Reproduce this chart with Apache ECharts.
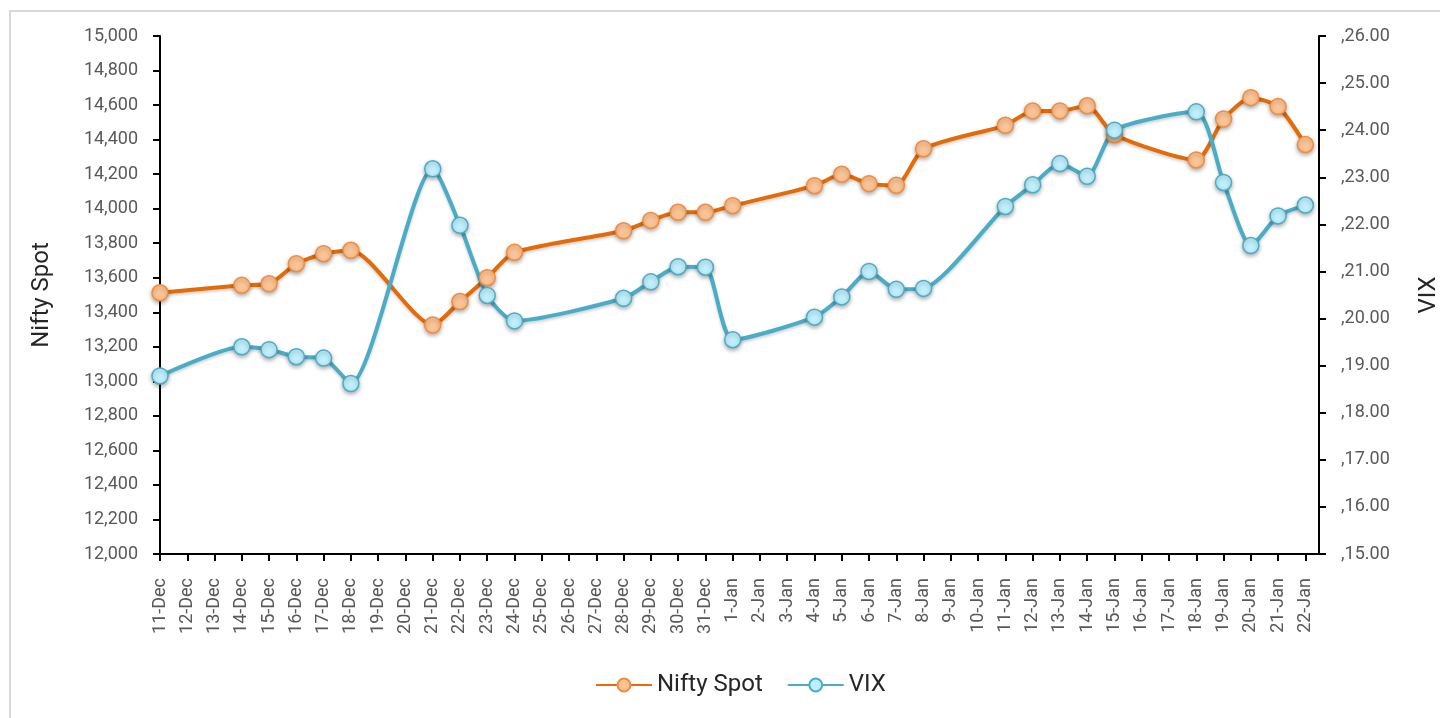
<!DOCTYPE html>
<html>
<head>
<meta charset="utf-8">
<script src="https://cdn.jsdelivr.net/npm/echarts@6/dist/echarts.min.js"></script>
<style>
  html, body { margin: 0; padding: 0; background: #fff; }
  #chart { width: 1440px; height: 718px; }
</style>
</head>
<body>
<div id="chart"></div>
<script>
// Categories: every calendar day shown on the axis
const days = ['11-Dec','12-Dec','13-Dec','14-Dec','15-Dec','16-Dec','17-Dec','18-Dec','19-Dec','20-Dec',
  '21-Dec','22-Dec','23-Dec','24-Dec','25-Dec','26-Dec','27-Dec','28-Dec','29-Dec','30-Dec','31-Dec',
  '1-Jan','2-Jan','3-Jan','4-Jan','5-Jan','6-Jan','7-Jan','8-Jan','9-Jan','10-Jan','11-Jan','12-Jan',
  '13-Jan','14-Jan','15-Jan','16-Jan','17-Jan','18-Jan','19-Jan','20-Jan','21-Jan','22-Jan'];

// Nifty Spot (null = no trading day)
const nifty = [13513,null,null,13556,13565,13681,13739,13759,null,null,
  13326,13462,13600,13747,null,null,null,13872,13932,13979,13979,
  14017,null,null,14133,14199,14145,14135,14347,null,null,14483,14566,
  14566,14596,14428,null,null,14282,14519,14643,14591,14371];

// India VIX
const vix = [18.78,null,null,19.40,19.34,19.19,19.16,18.62,null,null,
  23.18,21.98,20.49,19.95,null,null,null,20.43,20.78,21.10,21.09,
  19.55,null,null,20.03,20.46,21.00,20.62,20.64,null,null,22.38,22.84,
  23.29,23.02,24.00,null,null,24.39,22.89,21.55,22.18,22.41];

const leftTicks = { min: 12000, max: 15000, step: 200 };
const rightTicks = { min: 15, max: 26, step: 1 };

const toPairs = arr => arr.map((v, i) => [i, v]).filter(p => p[1] !== null);
const dayIdx = days.map((d, i) => i);

const FONT = 'Roboto';
const chart = echarts.init(document.getElementById('chart'), null, { renderer: 'canvas' });

const option = {
  animation: false,
  backgroundColor: '#ffffff',
  textStyle: { fontFamily: FONT },
  graphic: [
    { type: 'line', shape: { x1: 10, y1: 11, x2: 10, y2: 718 }, style: { stroke: '#d9d9d9', lineWidth: 2 } },
    { type: 'line', shape: { x1: 9, y1: 11, x2: 1440, y2: 11 }, style: { stroke: '#d9d9d9', lineWidth: 2 } }
  ],
  grid: { left: 160, right: 121, top: 36, bottom: 164, containLabel: false, outerBoundsMode: 'none' },
  legend: {
    bottom: 16,
    left: 590,
    itemWidth: 56,
    itemHeight: 16,
    itemGap: 24,
    textStyle: { fontFamily: FONT, fontSize: 24, color: '#262626' },
    data: ['Nifty Spot', 'VIX']
  },
  xAxis: {
    type: 'value',
    min: 0,
    max: days.length - 0.5,
    splitLine: { show: false },
    axisLine: { show: true, onZero: false, lineStyle: { color: '#000', width: 2 } },
    axisTick: { show: true, length: 7, lineStyle: { color: '#000', width: 2 }, customValues: dayIdx },
    axisLabel: {
      customValues: dayIdx,
      rotate: 90,
      margin: 24,
      fontFamily: FONT,
      fontSize: 18,
      color: '#595959',
      formatter: v => days[Math.round(v)] || ''
    }
  },
  yAxis: [
    {
      type: 'value',
      position: 'left',
      min: leftTicks.min, max: leftTicks.max, interval: leftTicks.step,
      name: 'Nifty Spot',
      nameLocation: 'middle',
      nameRotate: 90,
      nameGap: 106,
      nameTextStyle: { fontFamily: FONT, fontSize: 24, color: '#262626' },
      splitLine: { show: false },
      axisLine: { show: true, lineStyle: { color: '#000', width: 2 } },
      axisTick: { show: true, length: 7, lineStyle: { color: '#000', width: 2 } },
      axisLabel: {
        margin: 22, fontFamily: FONT, fontSize: 18, color: '#595959',
        formatter: v => v.toLocaleString('en-US')
      }
    },
    {
      type: 'value',
      position: 'right',
      min: rightTicks.min, max: rightTicks.max, interval: rightTicks.step,
      name: 'VIX',
      nameLocation: 'middle',
      nameRotate: 90,
      nameGap: 98,
      nameTextStyle: { fontFamily: FONT, fontSize: 24, color: '#262626' },
      splitLine: { show: false },
      axisLine: { show: true, lineStyle: { color: '#000', width: 2 } },
      axisTick: { show: true, length: 7, lineStyle: { color: '#000', width: 2 } },
      axisLabel: {
        margin: 22, fontFamily: FONT, fontSize: 18, color: '#595959',
        formatter: v => ',' + v.toFixed(2)
      }
    }
  ],
  series: [
    {
      name: 'Nifty Spot',
      type: 'line',
      yAxisIndex: 0,
      smooth: 0.22,
      data: toPairs(nifty),
      symbol: 'circle',
      symbolSize: 16,
      lineStyle: { color: '#E36C09', width: 4, shadowColor: 'rgba(0,0,0,0.18)', shadowBlur: 3, shadowOffsetY: 2 },
      itemStyle: { color: '#FCC496', borderColor: '#F28C3C', borderWidth: 1.5, shadowColor: 'rgba(0,0,0,0.3)', shadowBlur: 4, shadowOffsetY: 2 },
      emphasis: { disabled: true }
    },
    {
      name: 'VIX',
      type: 'line',
      yAxisIndex: 1,
      smooth: 0.22,
      data: toPairs(vix),
      symbol: 'circle',
      symbolSize: 16,
      lineStyle: { color: '#4BACC6', width: 4, shadowColor: 'rgba(0,0,0,0.18)', shadowBlur: 3, shadowOffsetY: 2 },
      itemStyle: { color: '#BFEFFC', borderColor: '#4BACC6', borderWidth: 1.5, shadowColor: 'rgba(0,0,0,0.3)', shadowBlur: 4, shadowOffsetY: 2 },
      emphasis: { disabled: true }
    }
  ]
};
chart.setOption(option);
</script>
</body>
</html>
